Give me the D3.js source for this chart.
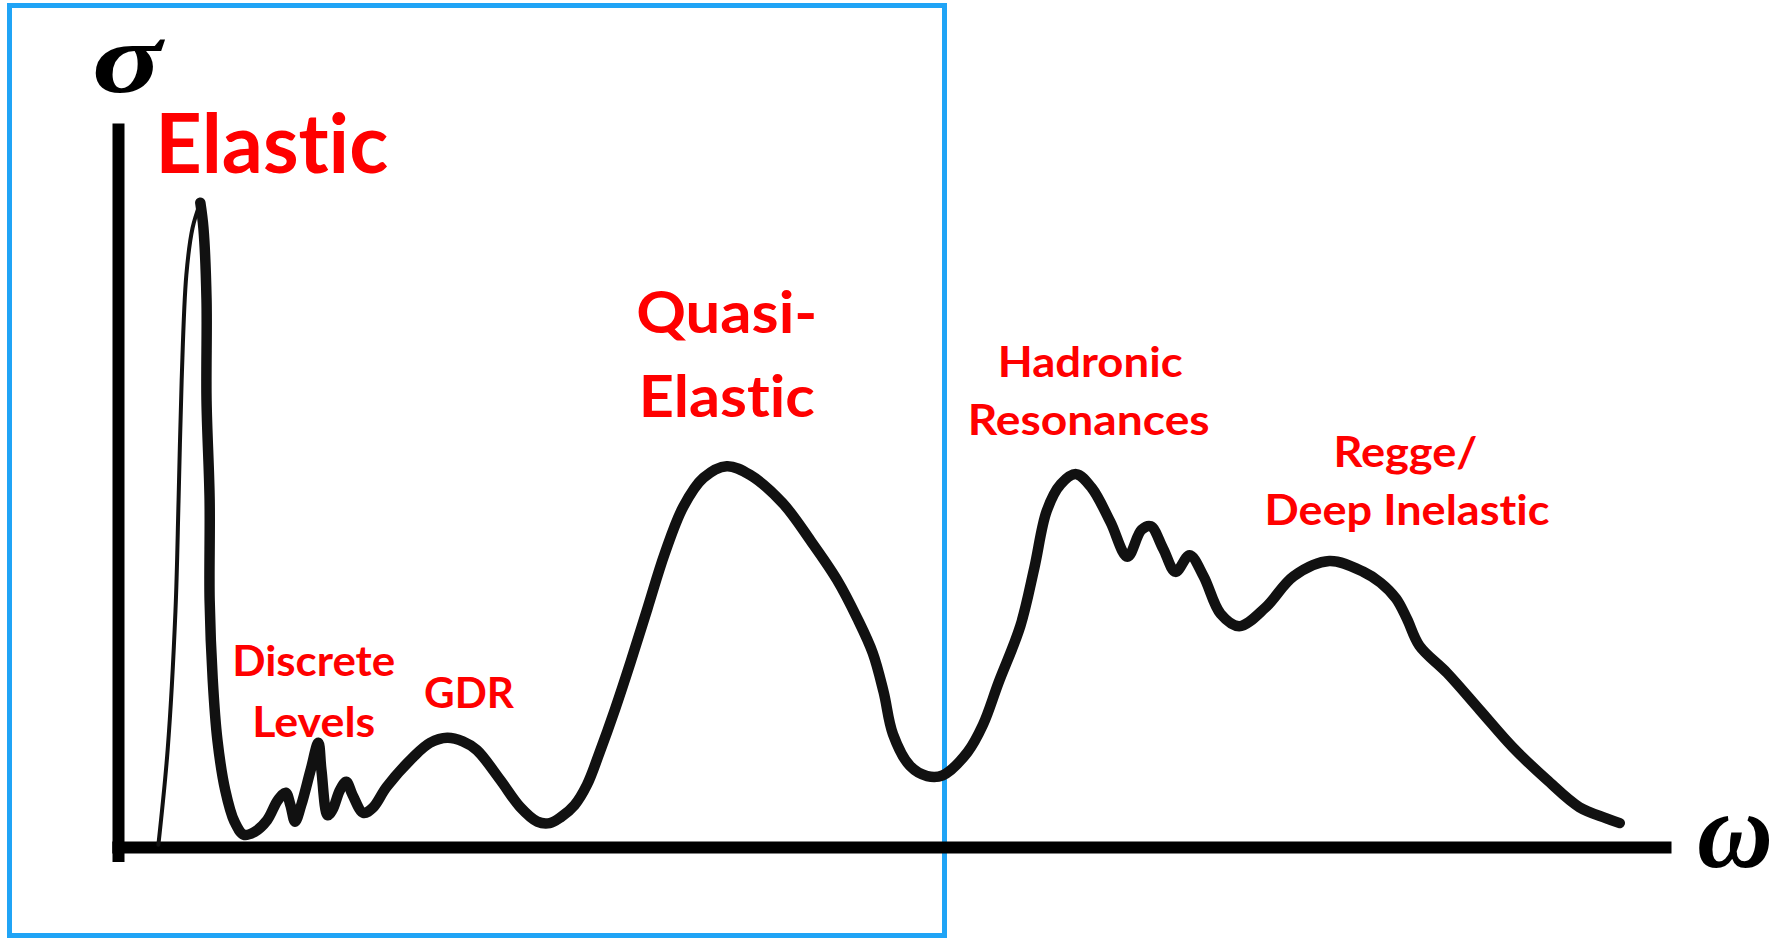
<!DOCTYPE html>
<html>
<head>
<meta charset="utf-8">
<script src="https://cdn.jsdelivr.net/npm/d3@7/dist/d3.min.js"></script>
<style>
  body { margin: 0; background: #fff; }
  .lbl { font-family: Lato, "Open Sans", sans-serif; font-weight: 700; fill: #ff0000;
         font-variant-ligatures: none; font-feature-settings: "liga" 0, "dlig" 0, "clig" 0; }
  .sym { font-family: "Liberation Serif", "DejaVu Serif", serif; font-style: italic; font-weight: 700; fill: #000; }
</style>
</head>
<body>
<svg id="chart" width="1777" height="940"></svg>
<script>
// omega (energy transfer) and sigma (cross section), arbitrary units 0..10

// thin rising edge of the elastic peak
const riseOmega = [0.26, 0.32, 0.37, 0.39, 0.41, 0.44, 0.48, 0.53];
const riseSigma = [0.03, 1.35, 3.26, 4.79, 6.45, 7.90, 8.55, 8.90];

// the rest of the spectrum, from the elastic peak to the tail
const curveOmega = [
  0.53, 0.55, 0.57, 0.57, 0.59, 0.59, 0.61, 0.64, 0.69, 0.75,
  0.81, 0.88, 0.96, 1.03, 1.08, 1.11, 1.14, 1.18, 1.24, 1.29,
  1.31, 1.35, 1.38, 1.43, 1.47, 1.51, 1.58, 1.64, 1.73, 1.90,
  2.01, 2.12, 2.22, 2.31, 2.46, 2.59, 2.70, 2.78, 2.85, 2.94,
  3.02, 3.10, 3.20, 3.30, 3.41, 3.52, 3.64, 3.77, 3.92, 4.07,
  4.28, 4.46, 4.63, 4.76, 4.86, 4.93, 4.99, 5.10, 5.21, 5.31,
  5.47, 5.57, 5.67, 5.81, 5.90, 5.98, 6.07, 6.17, 6.27, 6.39,
  6.50, 6.59, 6.65, 6.73, 6.81, 6.90, 6.99, 7.10, 7.22, 7.39,
  7.57, 7.80, 8.02, 8.13, 8.23, 8.30, 8.38, 8.56, 8.77, 8.98,
  9.20, 9.41, 9.58, 9.67
];
const curveSigma = [
  8.90, 8.55, 7.56, 6.17, 4.79, 3.41, 2.31, 1.48, 0.79, 0.35,
  0.17, 0.21, 0.37, 0.65, 0.75, 0.58, 0.35, 0.58, 1.06, 1.44,
  1.06, 0.44, 0.51, 0.79, 0.90, 0.72, 0.47, 0.54, 0.83, 1.24,
  1.44, 1.51, 1.46, 1.34, 0.93, 0.55, 0.35, 0.33, 0.41, 0.58,
  0.86, 1.30, 1.90, 2.55, 3.30, 4.05, 4.70, 5.10, 5.26, 5.14,
  4.75, 4.23, 3.69, 3.16, 2.68, 2.14, 1.56, 1.12, 0.98, 0.99,
  1.31, 1.69, 2.27, 3.05, 3.85, 4.64, 5.01, 5.15, 4.96, 4.49,
  4.01, 4.38, 4.43, 4.12, 3.80, 4.03, 3.74, 3.22, 3.05, 3.31,
  3.74, 3.95, 3.80, 3.65, 3.43, 3.15, 2.78, 2.40, 1.89, 1.38,
  0.93, 0.55, 0.40, 0.33
];

// region labels, one entry per text line, anchored at (omega, sigma) of the baseline centre
const labelLines = ["Elastic", "Discrete", "Levels", "GDR", "Quasi-", "Elastic",
                    "Hadronic", "Resonances", "Regge/", "Deep Inelastic"];
const labelOmega = [0.99, 1.26, 1.26, 2.26, 3.92, 3.92, 6.26, 6.25, 8.29, 8.30];
const labelSigma = [9.31, 2.36, 1.52, 1.92, 7.10, 5.94, 6.49, 5.69, 5.25, 4.45];

const svg = d3.select("#chart");

// plot frame
const x = d3.scaleLinear().domain([0, 10]).range([118, 1671]);
const y = d3.scaleLinear().domain([0, 10]).range([847, 123]);

// blue outline box
svg.append("rect")
  .attr("x", 9.5).attr("y", 5.5)
  .attr("width", 935).attr("height", 930)
  .attr("fill", "none")
  .attr("stroke", "#20a4f6")
  .attr("stroke-width", 5);

// axes: bare domain lines, no ticks
const xAxisScale = x.copy().domain([-0.04, 10]).range([x(-0.04), x(10)]);
const yAxisScale = y.copy().domain([-0.2, 10]).range([y(-0.2), y(10)]);

svg.append("g")
  .attr("transform", "translate(0," + y(0) + ")")
  .call(d3.axisBottom(xAxisScale).tickValues([]).tickSizeOuter(0))
  .call(g => g.select(".domain").attr("stroke", "#000").attr("stroke-width", 12));

svg.append("g")
  .attr("transform", "translate(" + x(0) + ",0)")
  .call(d3.axisLeft(yAxisScale).tickValues([]).tickSizeOuter(0))
  .call(g => g.select(".domain").attr("stroke", "#000").attr("stroke-width", 12));

// curves
const line = d3.line()
  .x(d => x(d[0]))
  .y(d => y(d[1]))
  .curve(d3.curveCatmullRom.alpha(0.5));

const rise = d3.zip(riseOmega, riseSigma);
const spectrum = d3.zip(curveOmega, curveSigma);

svg.append("path")
  .datum(rise)
  .attr("d", line)
  .attr("fill", "none")
  .attr("stroke", "#111")
  .attr("stroke-width", 4)
  .attr("stroke-linecap", "round");

svg.append("path")
  .datum(spectrum)
  .attr("d", line)
  .attr("fill", "none")
  .attr("stroke", "#111")
  .attr("stroke-width", 10.5)
  .attr("stroke-linecap", "round")
  .attr("stroke-linejoin", "round");

// label styling: font size and fitted width per line
const labelSize = [82, 42, 42, 42, 57, 57, 42, 42, 42, 42];
const labelWidth = [233, 163, 123, 90, 181, 176, 185, 242, 144, 285];

svg.selectAll(".lbl")
  .data(labelLines)
  .enter()
  .append("text")
  .attr("class", "lbl")
  .attr("x", (d, i) => x(labelOmega[i]))
  .attr("y", (d, i) => y(labelSigma[i]))
  .attr("text-anchor", "middle")
  .attr("font-size", (d, i) => labelSize[i])
  .attr("textLength", (d, i) => labelWidth[i])
  .attr("lengthAdjust", "spacingAndGlyphs")
  .text(d => d);

// axis symbols
svg.append("text")
  .attr("class", "sym")
  .attr("x", 92).attr("y", 92)
  .attr("font-size", 100)
  .attr("textLength", 70)
  .attr("lengthAdjust", "spacingAndGlyphs")
  .text("σ");

svg.append("text")
  .attr("class", "sym")
  .attr("x", 1697).attr("y", 867)
  .attr("font-size", 108)
  .attr("textLength", 76)
  .attr("lengthAdjust", "spacingAndGlyphs")
  .text("ω");
</script>
</body>
</html>
